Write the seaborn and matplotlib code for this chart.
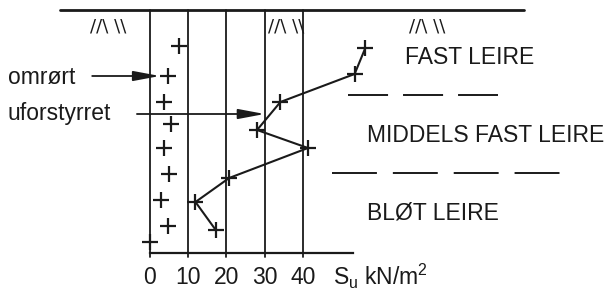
import matplotlib
matplotlib.use("Agg")
import matplotlib.pyplot as plt
import seaborn as sns
import pandas as pd

# Su (kN/m2) against depth
depth_omrort = [1.8, 3.3, 4.6, 5.7, 6.9, 8.2, 9.5, 10.8, 11.6]
su_omrort = [7.7, 4.8, 3.7, 5.4, 3.8, 5.0, 2.8, 4.6, 0.0]

depth_uforst = [1.9, 3.2, 4.6, 6.0, 6.9, 8.4, 9.6, 11.0]
su_uforst = [56.3, 53.5, 34.1, 28.0, 41.3, 20.7, 11.9, 17.2]

su_ticks = [0, 10, 20, 30, 40]
layer_names = ["FAST LEIRE", "MIDDELS FAST LEIRE", "BLØT LEIRE"]
layer_bounds = [4.25, 8.15]
bottom_depth = 12.15

sns.set_style("white")
plt.rcParams["font.family"] = ["Liberation Sans", "DejaVu Sans"]

fig = plt.figure(figsize=(6.09, 2.91), dpi=100)
ax = fig.add_axes([0, 0, 1, 1])
ax.set_xlim(-39.2, 120.0)
ax.set_ylim(14.05, -0.5)

ink = "#1a1a1a"
fs = 16.5

# ground surface and grid lines
ax.plot([-23.5, 97.9], [0, 0], color=ink, lw=2.0)
for v in su_ticks:
    ax.plot([v, v], [0, bottom_depth + 0.2], color=ink, lw=1.3)

# terrain hatch marks
for xh in [-11.0, 35.5, 72.5]:
    ax.text(xh, 0.8, "//\\ \\\\", ha="center", va="center", fontsize=13, color=ink,
            family="DejaVu Sans")

# measured points
uf = pd.DataFrame({"su": su_uforst, "depth": depth_uforst})
om = pd.DataFrame({"su": su_omrort, "depth": depth_omrort})
sns.lineplot(data=uf, x="su", y="depth", sort=False, estimator=None,
             color=ink, lw=1.5, ax=ax)
sns.scatterplot(data=uf, x="su", y="depth", marker="+", s=120, color=ink,
                linewidth=1.6, ax=ax)
sns.scatterplot(data=om, x="su", y="depth", marker="+", s=120, color=ink,
                linewidth=1.6, ax=ax)

# layer boundaries
ax.plot([51.7, 90.9], [layer_bounds[0]] * 2, color=ink, lw=1.4,
        linestyle=(0, (20.6, 7.7)))
ax.plot([47.5, 107.1], [layer_bounds[1]] * 2, color=ink, lw=1.4,
        linestyle=(0, (23.1, 8.2)))

ax.text(66.6, 2.35, layer_names[0], ha="left", va="center", fontsize=fs, color=ink)
ax.text(56.7, 6.25, layer_names[1], ha="left", va="center", fontsize=fs, color=ink)
ax.text(56.7, 10.15, layer_names[2], ha="left", va="center", fontsize=fs, color=ink)

# annotations with arrows
ax.text(-37.2, 3.35, "omrørt", ha="left", va="center", fontsize=fs, color=ink)
ax.annotate("", xy=(2.6, 3.3), xytext=(-15.1, 3.3),
            arrowprops=dict(arrowstyle="-|>,head_length=1.6,head_width=0.3",
                            color=ink, lw=1.3, shrinkA=0, shrinkB=0))
ax.text(-37.2, 5.15, "uforstyrret", ha="left", va="center", fontsize=fs, color=ink)
ax.annotate("", xy=(30.0, 5.2), xytext=(-3.4, 5.2),
            arrowprops=dict(arrowstyle="-|>,head_length=1.6,head_width=0.3",
                            color=ink, lw=1.3, shrinkA=0, shrinkB=0))

# bottom axis
for side in ["top", "left", "right"]:
    ax.spines[side].set_visible(False)
ax.spines["bottom"].set_position(("data", bottom_depth))
ax.spines["bottom"].set_bounds(0, 53)
ax.spines["bottom"].set_linewidth(1.6)
ax.spines["bottom"].set_color(ink)
ax.set_xticks(su_ticks)
ax.set_xticklabels([str(t) for t in su_ticks], fontsize=fs, color=ink)
ax.tick_params(axis="x", length=0, pad=9)
ax.set_yticks([])
ax.set_xlabel("")
ax.set_ylabel("")
ax.text(47.8, 13.75, r"S$_\mathregular{u}$ kN/m$^\mathregular{2}$", ha="left",
        va="baseline", fontsize=fs, color=ink)

fig.savefig("out.png", dpi=100)
